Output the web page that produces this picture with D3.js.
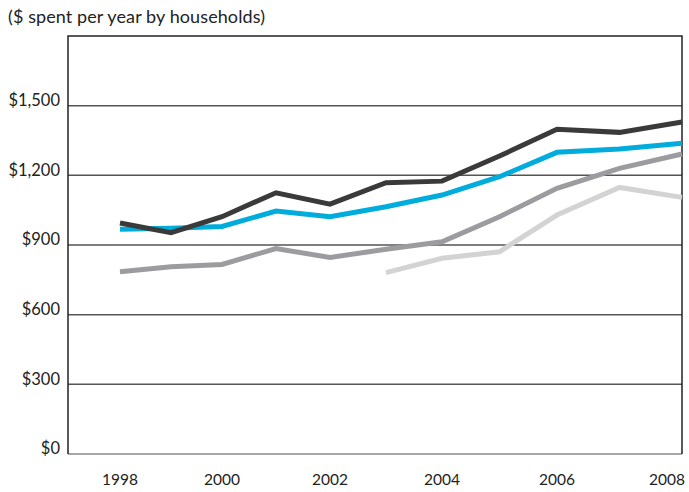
<!DOCTYPE html>
<html><head><meta charset="utf-8">
<script src="https://cdn.jsdelivr.net/npm/d3@7"></script>
<style>body{margin:0;background:#fff}svg{display:block}text{font-family:Lato,"Open Sans",sans-serif;fill:#222}</style>
</head><body><svg id="c" width="689" height="492"></svg>
<script>
const years = [1998,1999,2000,2001,2002,2003,2004,2005,2006,2007,2008];
const seriesDark  = [995,953,1022,1125,1076,1168,1175,1283,1398,1385,1430];
const seriesBlue  = [968,972,980,1046,1022,1065,1115,1194,1299,1313,1338];
const seriesGray  = [785,806,816,885,846,882,914,1022,1144,1230,1292];
const seriesLight = [null,null,null,null,null,781,843,871,1029,1148,1105];
const yTicks = [0,300,600,900,1200,1500];
const xTicks = [1998,2000,2002,2004,2006,2008];
const title = "($ spent per year by households)";

const svg = d3.select("#c");
const L=68, R=682, T=36, B=454;
const x = d3.scaleLinear().domain([1998,2000,2002,2004,2006,2008]).range([120,222,330,442,557,682]);
const y = d3.scaleLinear().domain([0,1800]).range([B,T]);

svg.append("text").attr("x",8).attr("y",23).attr("font-size",18).attr("textLength",257).text(title);

// gridlines
svg.append("g").selectAll("line").data(yTicks).join("line")
  .attr("x1",L).attr("x2",R).attr("y1",d=>y(d)).attr("y2",d=>y(d))
  .attr("stroke",d=>d===0?"#888":"#555").attr("stroke-width",1.5);
// frame
svg.append("path").attr("d",`M${L},${B}V${T}H${R}V${B}`).attr("fill","none").attr("stroke","#222").attr("stroke-width",1.5);

svg.append("g").selectAll("text").data(yTicks).join("text")
  .attr("x",60).attr("y",d=>y(d)-4).attr("text-anchor","end").attr("dominant-baseline","middle")
  .attr("font-size",16.5).text(d=>"$"+d3.format(",")(d));

svg.append("g").selectAll("text").data(xTicks).join("text")
  .attr("x",d=>Math.min(x(d),667)).attr("y",481).attr("text-anchor","middle").attr("dominant-baseline","middle")
  .attr("font-size",15.5).text(d=>d);

const line = d3.line().defined(d=>d[1]!=null).x(d=>x(d[0])).y(d=>y(d[1]));
const series = [[seriesLight,"#d3d3d3"],[seriesGray,"#9c9ca0"],[seriesBlue,"#00acdc"],[seriesDark,"#3a3a3a"]];
series.forEach(([vals,col])=>{
  svg.append("path").datum(years.map((yr,i)=>[yr,vals[i]]))
    .attr("d",line).attr("fill","none").attr("stroke",col).attr("stroke-width",5)
    .attr("stroke-linejoin","miter");
});
</script></body></html>
